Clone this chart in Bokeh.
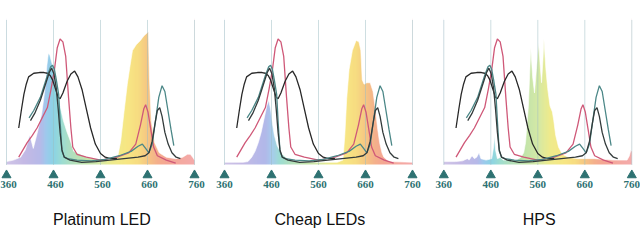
import numpy as np
from bokeh.plotting import figure
from bokeh.layouts import row
from bokeh.models import Range1d
from bokeh.core.properties import value
from bokeh.embed import file_html
from bokeh.resources import INLINE

# ---------------- data ----------------
ticks = [360, 460, 560, 660, 760]
tick_labels = ["360", "460", "560", "660", "760"]
titles = ["Platinum LED", "Cheap LEDs", "HPS"]

# light source spectra (relative, 0-100)
led_wl = [360, 375, 390, 400, 405, 409, 413, 417, 421, 425, 435, 442, 446, 449, 452, 456, 460,
          466, 471, 476, 481, 489, 496, 503, 517, 530, 545, 560, 575, 590, 597, 603, 610, 617,
          623, 628, 636, 645, 652, 659, 662, 664, 668, 675, 685, 700, 720, 735, 745, 751, 756, 760]
led_val = [2, 3, 5, 10, 15, 20, 16, 11, 16, 21, 35, 52, 68, 76, 75, 70, 66,
           55, 45, 37, 30, 22, 16, 9, 7, 5, 4, 3, 3, 4, 6, 16, 36, 55,
           68, 78, 82, 85, 88, 90, 91, 60, 30, 15, 8, 5, 4, 5, 7, 7, 5, 3]

cheap_wl = [360, 400, 410, 418, 425, 432, 438, 444, 450, 454, 458, 462, 466, 472, 480, 490, 500,
            520, 560, 600, 612, 616, 620, 625, 632, 640, 646, 650, 653, 657, 663, 670, 676,
            681, 686, 690, 695, 699, 710, 760]
cheap_val = [1.5, 1.5, 2, 5, 9, 15, 22, 31, 40, 44, 38, 28, 20, 13, 8, 5, 3,
             2, 1.5, 1.5, 3, 20, 45, 65, 78, 85, 84, 78, 58, 55, 56, 56, 50,
             38, 24, 15, 8, 5, 2, 1.5]

hps_wl = [360, 385, 400, 410, 414, 420, 425, 430, 435, 439, 450, 462, 466, 468, 470, 474, 481,
          486, 500, 515, 524, 530, 534, 540, 545, 549, 553, 557, 562, 565, 568, 571, 573,
          577, 581, 586, 591, 594, 598, 604, 612, 625, 645, 680, 720, 750, 755, 758, 760]
hps_val = [2, 2, 2.5, 4, 3, 6, 4, 5, 8, 4, 3, 4, 12, 20, 10, 4, 5,
           3, 3, 3, 5, 8, 15, 40, 80, 60, 49, 65, 83, 68, 56, 72, 86,
           66, 52, 40, 36, 30, 20, 12, 7, 5, 4, 4, 3, 3, 6, 10, 9]

spectra = [(led_wl, led_val), (cheap_wl, cheap_val), (hps_wl, hps_val)]

# absorption curves (relative, 0-100)
carot_wl = [386, 392, 397, 402, 407, 418, 430, 440, 447, 453, 458, 464, 470, 474, 480, 489,
            497, 505, 512, 521, 530, 539, 549, 560, 570, 581, 595]
carot_val = [25, 38, 48, 55, 60, 62.5, 63, 63, 62.5, 61, 58, 52, 46, 45, 49, 57,
             62, 64, 60, 51, 38, 25, 14, 7.5, 5, 4, 4]

teal_wl = [408, 418, 432, 447, 454, 458, 462, 466, 471, 474, 478, 483, 490, 510, 540, 570,
           600, 625, 640, 649, 656, 663, 670, 677, 684, 691, 697, 703, 710, 716]
teal_val = [32, 37, 46, 61, 67, 68, 65, 58, 48, 30, 9, 5, 4, 3, 2.5, 3.5,
            6, 9, 12.5, 14, 11, 8, 14, 30, 46, 54, 50, 38, 24, 13]

dark_wl = [411, 420, 432, 444, 451, 456, 461, 466, 470, 474, 478, 483, 495, 520, 550, 580,
           610, 640, 655, 663, 670, 676, 681, 686, 691, 697, 704, 712, 721, 730]
dark_val = [30, 35, 44, 56, 63, 66, 62, 52, 38, 22, 10, 5, 3, 1.5, 2, 3,
            4, 5, 6, 8, 16, 28, 37, 39, 33, 22, 14, 8, 5, 4]

pink_wl = [386, 395, 404, 415, 425, 436, 447, 455, 462, 468, 474, 480, 486, 492, 497, 501,
           510, 530, 560, 595, 620, 635, 645, 652, 656, 661, 667, 673, 681, 700, 720]
pink_val = [5, 10, 15, 20, 25, 32, 39, 52, 65, 80, 86, 84, 74, 46, 25, 12,
            7, 5, 3, 5, 8, 14, 27, 38, 41, 36, 24, 12, 6, 3, 1]

curves = [
    (pink_wl, pink_val, "#cf5878"),
    (carot_wl, carot_val, "#282828"),
    (teal_wl, teal_val, "#4b8787"),
    (dark_wl, dark_val, "#333b3b"),
]

# spectral colour stops for the fill
stop_nm = [360, 400, 430, 446, 460, 478, 500, 530, 560, 585, 615, 640, 660, 680, 700, 760]
stop_hex = ["#c9bde4", "#bcb0e2", "#aeb0e6", "#8ec4ea", "#7ccee2", "#90d8cc", "#a8dcb4",
            "#b8e0a0", "#cfe69a", "#ece87e", "#f6e474", "#f6d870", "#f5bf72", "#f3a67c",
            "#f29a86", "#f2a0a0"]
# the cheap-LED panel shows its blue peak in a more violet tone
stop_hex_cheap = list(stop_hex)
stop_hex_cheap[3] = "#a8aee6"
stop_hex_cheap[4] = "#9cc4ec"

# ---------------- drawing ----------------
PX_PER_NM = 0.47
PX_PER_UNIT = 1.46
BASE_PY = 164


def spectrum_image(hexes):
    nm = np.arange(360, 761)
    rgb = np.array([[int(h[i:i + 2], 16) for i in (1, 3, 5)] for h in hexes], dtype=float)
    img = np.zeros((1, len(nm)), dtype=np.uint32)
    view = img.view(dtype=np.uint8).reshape((1, len(nm), 4))
    for c in range(3):
        view[0, :, c] = np.interp(nm, stop_nm, rgb[:, c]).astype(np.uint8)
    view[0, :, 3] = 225
    return img


def panel(title, wl, val, width, off360, hexes, label_shift=0):
    x0 = 360 - off360 / PX_PER_NM
    x1 = x0 + width / PX_PER_NM
    y1 = BASE_PY / PX_PER_UNIT
    y0 = -(240 - BASE_PY) / PX_PER_UNIT
    p = figure(width=width, height=240, x_range=Range1d(x0, x1), y_range=Range1d(y0, y1),
               output_backend="svg", toolbar_location=None, min_border=0,
               x_axis_type=None, y_axis_type=None, outline_line_color=None,
               background_fill_color="white", border_fill_color="white")
    # coloured spectrum: gradient image masked above the spectrum curve
    p.image_rgba(image=[spectrum_image(hexes)], x=360, y=0, dw=400, dh=100)
    p.patch(x=list(wl) + [760, 360], y=list(val) + [102, 102],
            fill_color="white", line_color="white", line_width=0.6)
    # dotted guide lines
    p.segment(x0=ticks, y0=[0] * 5, x1=ticks, y1=[99] * 5,
              line_color="#9dbcc2", line_dash="1 1", line_width=1)
    # absorption curves
    for cwl, cval, col in curves:
        p.line(cwl, cval, line_color=col, line_width=1.3)
    # tick markers and labels
    p.scatter(ticks, [-7.3] * 5, marker="triangle", size=9, color="#2e7272")
    p.text(x=ticks, y=[-13.8] * 5, text=tick_labels, x_offset=label_shift,
           text_font=value("Liberation Sans Narrow"), text_font_style="bold",
           text_font_size="11px", text_color="#2e7272",
           text_align="center", text_baseline="middle")
    p.text(x=[563], y=[-38], text=[title], text_font=value("Liberation Sans"),
           text_font_size="16px", text_color="#111111",
           text_align="center", text_baseline="middle")
    return p


widths = [213, 214, 213]
offsets = [6, 11, 16.3]
palettes = [stop_hex, stop_hex_cheap, stop_hex]
shifts = [2, 0, 0]
plots = [panel(t, s[0], s[1], w, o, h, sh)
         for t, s, w, o, h, sh in zip(titles, spectra, widths, offsets, palettes, shifts)]
layout = row(*plots, spacing=0)

open("out.html", "w").write(file_html(layout, INLINE))
